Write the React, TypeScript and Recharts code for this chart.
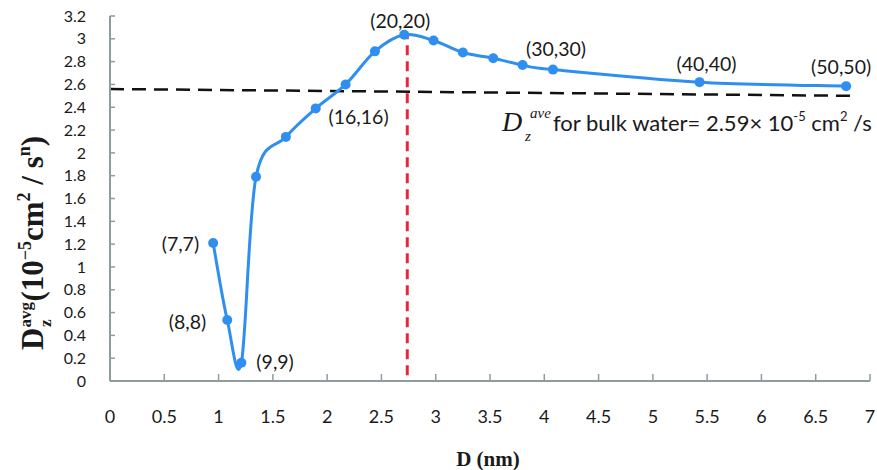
import React from 'react'
import { LineChart, Line, XAxis, YAxis, ReferenceLine, LabelList } from 'recharts'

// pore diameter (nm) vs axial diffusion coefficient, one point per (n,n) tube
const poreSize = [0.95, 1.08, 1.21, 1.345, 1.62, 1.895, 2.17, 2.44, 2.71, 2.98, 3.25, 3.53, 3.8, 4.08, 5.43, 6.78]
const diffusion = [1.21, 0.535, 0.16, 1.79, 2.14, 2.39, 2.6, 2.89, 3.035, 2.985, 2.88, 2.83, 2.77, 2.73, 2.62, 2.585]
const tubeLabels = ['(7,7)', '(8,8)', '(9,9)', '', '', '', '(16,16)', '', '(20,20)', '', '', '', '', '(30,30)', '(40,40)', '(50,50)']

const xTicks = [0, 0.5, 1, 1.5, 2, 2.5, 3, 3.5, 4, 4.5, 5, 5.5, 6, 6.5, 7]
const yTicks = [0, 0.2, 0.4, 0.6, 0.8, 1, 1.2, 1.4, 1.6, 1.8, 2, 2.2, 2.4, 2.6, 2.8, 3, 3.2]

// bulk water reference (slightly sloped dashed line) and the peak marker
const bulkLine = [{ x: 0, y: 2.56 }, { x: 6.87, y: 2.5 }]
const peakLine = [{ x: 2.738, y: 0.05 }, { x: 2.738, y: 3.04 }]

const data = poreSize.map((d, i) => ({ d, dz: diffusion[i], label: tubeLabels[i] }))

const BLUE = '#2f8ff0'
const AXIS = '#8c9d9d'
const TEXT = '#1a1a1a'

const labelPlacement: Record<string, { dx: number; dy: number; anchor: 'start' | 'middle' | 'end' }> = {
  '(7,7)': { dx: -14, dy: 1, anchor: 'end' },
  '(8,8)': { dx: -21, dy: 2, anchor: 'end' },
  '(9,9)': { dx: 15, dy: -1, anchor: 'start' },
  '(16,16)': { dx: 13, dy: 32, anchor: 'middle' },
  '(20,20)': { dx: -4, dy: -14, anchor: 'middle' },
  '(30,30)': { dx: 3, dy: -21, anchor: 'middle' },
  '(40,40)': { dx: 7, dy: -19, anchor: 'middle' },
  '(50,50)': { dx: -5, dy: -20, anchor: 'middle' },
}

// Excel-like smoothed line (uniform Catmull-Rom as cubic beziers)
const smoothCurve = (context: any) => {
  let pts: number[][] = []
  return {
    areaStart() {},
    areaEnd() {},
    lineStart() { pts = [] },
    point(x: number, y: number) { pts.push([+x, +y]) },
    lineEnd() {
      if (!pts.length) return
      context.moveTo(pts[0][0], pts[0][1])
      for (let i = 0; i < pts.length - 1; i++) {
        const p0 = pts[i - 1] || pts[i]
        const p1 = pts[i]
        const p2 = pts[i + 1]
        const p3 = pts[i + 2] || p2
        context.bezierCurveTo(
          p1[0] + (p2[0] - p0[0]) / 6, p1[1] + (p2[1] - p0[1]) / 6,
          p2[0] - (p3[0] - p1[0]) / 6, p2[1] - (p3[1] - p1[1]) / 6,
          p2[0], p2[1]
        )
      }
    },
  }
}

const fmt = (v: number) => String(+v.toFixed(1))

const renderTubeLabel = (props: any) => {
  const { x, y, value } = props
  const p = labelPlacement[value]
  if (!p) return null
  return (
    <text x={x + p.dx} y={y + p.dy} textAnchor={p.anchor} dominantBaseline="central"
      fontFamily="Lato, sans-serif" fontSize={19.5} fill={TEXT}>
      {value}
    </text>
  )
}

const YTitle = () => (
  <g transform="translate(43,230) rotate(-90)">
    <text x={-120} y={0} fontFamily="'Liberation Serif', serif" fontWeight="bold" fontSize={31} fill={TEXT}>
      D
      <tspan fontSize={17} dy={-12}>avg</tspan>
      <tspan fontSize={17} dx={-25} dy={20}>z</tspan>
      <tspan dx={18} dy={-8}>(10</tspan>
      <tspan fontSize={18} dy={-12}>−5</tspan>
      <tspan dy={12}>cm</tspan>
      <tspan fontSize={18} dy={-13}>2</tspan>
      <tspan dy={13}> / s</tspan>
      <tspan fontSize={18} dy={-13}>n</tspan>
      <tspan dy={13}>)</tspan>
    </text>
  </g>
)

const XTitle = () => (
  <text x={488} y={466} textAnchor="middle" fontFamily="'Liberation Serif', serif" fontWeight="bold" fontSize={21} fill={TEXT}>
    D (nm)
  </text>
)

const BulkNote = () => (
  <g fill={TEXT}>
    <text x={502} y={131} fontFamily="'Liberation Serif', serif" fontStyle="italic" fontSize={28}>D</text>
    <text x={530} y={118} fontFamily="'Liberation Serif', serif" fontStyle="italic" fontSize={15}>ave</text>
    <text x={525} y={141} fontFamily="'Liberation Serif', serif" fontStyle="italic" fontSize={15}>z</text>
    <text x={553} y={131} fontFamily="Lato, sans-serif" fontSize={22}>
      for bulk water= 2.59× 10
      <tspan fontSize={13} dy={-10}>-5</tspan>
      <tspan dy={10}> cm</tspan>
      <tspan fontSize={13} dy={-10}>2</tspan>
      <tspan dy={10}> /s</tspan>
    </text>
  </g>
)

export default function App() {
  return (
    <div style={{ position: 'absolute', left: 0, top: 0, width: 877, height: 470, background: '#fff' }}>
      <LineChart width={877} height={470} data={data} margin={{ top: 16, right: 7, bottom: 0, left: 0 }}>
        <XAxis
          dataKey="d" type="number" domain={[0, 7]} ticks={xTicks} height={89} interval={0}
          axisLine={{ stroke: AXIS, strokeWidth: 2 }} tickLine={{ stroke: AXIS, strokeWidth: 1.5 }}
          tickSize={-7} tickMargin={36} tickFormatter={fmt}
          tick={{ fill: TEXT, fontSize: 18, fontFamily: 'Lato, sans-serif' }}
          label={{ content: () => <XTitle /> }}
        />
        <YAxis
          type="number" domain={[0, 3.2]} ticks={yTicks} width={110} interval={0}
          axisLine={{ stroke: AXIS, strokeWidth: 2 }} tickLine={{ stroke: AXIS, strokeWidth: 1.5 }}
          tickSize={-5} tickMargin={29} tickFormatter={fmt}
          tick={{ fill: TEXT, fontSize: 16, fontFamily: 'Lato, sans-serif' }}
          label={{ content: () => <YTitle /> }}
        />
        <ReferenceLine segment={bulkLine} stroke="#111" strokeWidth={2.5} strokeDasharray="14 8"
          label={{ content: () => <BulkNote /> }} />
        <ReferenceLine segment={peakLine} stroke="#e8283a" strokeWidth={3} strokeDasharray="10 6" />
        <Line
          dataKey="dz" type={smoothCurve as any} stroke={BLUE} strokeWidth={3}
          dot={{ r: 5, fill: BLUE, stroke: BLUE, strokeWidth: 0 }} activeDot={false}
          isAnimationActive={false}
        >
          <LabelList dataKey="label" content={renderTubeLabel} />
        </Line>
      </LineChart>
    </div>
  )
}
